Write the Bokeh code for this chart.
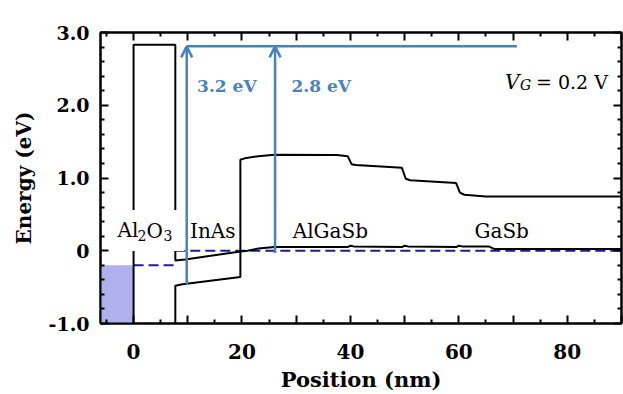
from bokeh.plotting import figure
from bokeh.models import (ColumnDataSource, FixedTicker, LinearAxis, Arrow, OpenHead,
                          CustomLabelingPolicy)
from bokeh.core.properties import value
from bokeh.embed import file_html
from bokeh.resources import INLINE

# ---------------- data ----------------
# oxide CB -> InAs CB -> AlGaSb/GaSb VB (upper-left path)
upper_x = [0, 0, 7.7, 7.7, 9.5, 19.7, 21, 23, 26, 39.5, 40, 40.6, 49.5, 50, 50.6,
           59.5, 60, 60.6, 65.5, 66.5, 90]
upper_y = [-1.0, 2.83, 2.83, -0.135, -0.12, -0.01, 0.0, 0.03, 0.05, 0.05, 0.07, 0.06,
           0.05, 0.07, 0.06, 0.05, 0.07, 0.06, 0.06, 0.025, 0.025]
# oxide VB edge -> InAs VB -> AlGaSb/GaSb CB
lower_x = [7.7, 7.7, 9.0, 19.7, 19.7, 20.5, 23, 26, 37.5, 39.5, 40.2, 41, 49.5, 50.2,
           51, 59.5, 60.2, 61, 65, 90]
lower_y = [-1.0, -0.48, -0.46, -0.36, 1.25, 1.27, 1.30, 1.32, 1.315, 1.30, 1.19, 1.18,
           1.14, 0.99, 0.97, 0.93, 0.80, 0.77, 0.745, 0.745]

# Fermi levels (dashed)
fermi_metal_x = [0, 7.4]
fermi_metal_y = [-0.2, -0.2]
fermi_semi_x = [7.7, 90]
fermi_semi_y = [0.0, 0.0]

# metal gate filled states
metal_x = [-7, 0]
metal_top = [-0.2, -0.2]
metal_bottom = [-1.0, -1.0]

# optical transitions
gap_line_x = [9.8, 70.7]
gap_line_y = [2.81, 2.81]
arrow_x = [9.8, 26.1]
arrow_start = [-0.46, -0.03]
arrow_end = [2.81, 2.81]
gap_labels = ["3.2 eV", "2.8 eV"]
gap_label_x = [17.2, 34.6]
gap_label_y = [2.26, 2.26]

# layer names
layer_names = ["InAs", "AlGaSb", "GaSb"]
layer_x = [14.6, 36.3, 67.9]
layer_y = [0.277, 0.277, 0.277]

# axes ticks
x_ticks = [0, 10, 20, 30, 40, 50, 60, 70, 80, 90]
x_minor = [-5, 5, 15, 25, 35, 45, 55, 65, 75, 85]
y_ticks = [-1.0, 0.0, 1.0, 2.0, 3.0]
y_tick_labels = ["-1.0", "0", "1.0", "2.0", "3.0"]
y_minor = [-0.8, -0.6, -0.4, -0.2, 0.2, 0.4, 0.6, 0.8, 1.2, 1.4, 1.6, 1.8,
           2.2, 2.4, 2.6, 2.8]

FONT = "DejaVu Serif"
BLACK = "black"
BLUE = "#4682c0"
NAVY = "#1c1c9c"

p = figure(width=623, height=394, x_range=(-6.1, 90), y_range=(-1, 3),
           output_backend="svg", toolbar_location=None,
           min_border_left=100, min_border_right=2, min_border_top=32,
           min_border_bottom=69)
p.grid.visible = False
p.outline_line_color = BLACK
p.outline_line_width = 2
p.background_fill_color = "white"
p.border_fill_color = "white"

xt = FixedTicker(ticks=x_ticks, minor_ticks=x_minor)
yt = FixedTicker(ticks=y_ticks, minor_ticks=y_minor)

every_other = CustomLabelingPolicy(code="""
for (const i of indices)
  if (i % 2 == 1)
    indices.unset(i)
return indices
""")
no_labels = CustomLabelingPolicy(code="""
for (const i of indices)
  indices.unset(i)
return indices
""")


def style_axis(ax, show):
    ax.axis_line_width = 2
    ax.axis_line_color = BLACK
    ax.major_tick_in = 8
    ax.major_tick_out = 0
    ax.minor_tick_in = 4
    ax.minor_tick_out = 0
    ax.major_tick_line_width = 2
    ax.minor_tick_line_width = 2
    ax.major_tick_line_color = BLACK
    ax.minor_tick_line_color = BLACK
    ax.major_label_text_font = FONT
    ax.major_label_text_font_style = "bold"
    ax.major_label_text_color = BLACK
    if show:
        ax.major_label_text_font_size = "19px"
    else:
        ax.major_label_text_font_size = "0px"
        ax.major_label_policy = no_labels
        ax.major_label_standoff = 0
    ax.axis_label_text_font = FONT
    ax.axis_label_text_font_style = "bold"
    ax.axis_label_text_font_size = "20px"
    ax.axis_label_text_color = BLACK


xa = p.xaxis[0]
xa.ticker = xt
xa.major_label_policy = every_other
style_axis(xa, True)
xa.major_label_text_font_size = "20px"
xa.major_label_standoff = 20
xa.axis_label = "Position (nm)"
xa.axis_label_text_font_size = "21px"
xa.axis_label_standoff = 5

ya = p.yaxis[0]
ya.ticker = yt
ya.major_label_overrides = dict(zip(y_ticks, y_tick_labels))
style_axis(ya, True)
ya.major_label_standoff = 11
ya.axis_label = "Energy (eV)"
ya.axis_label_standoff = 10

top = LinearAxis(ticker=xt)
style_axis(top, False)
p.add_layout(top, "above")
right = LinearAxis(ticker=yt)
style_axis(right, False)
p.add_layout(right, "right")

# metal filled region
p.varea(x=metal_x, y1=metal_bottom, y2=metal_top, fill_color="#b0b0ee", fill_alpha=1)

# Fermi levels
p.line(fermi_metal_x, fermi_metal_y, line_color=NAVY, line_width=2, line_dash="10 5")
p.line(fermi_semi_x, fermi_semi_y, line_color=NAVY, line_width=2, line_dash="10 5")

# band edges
p.line(upper_x, upper_y, line_color=BLACK, line_width=2)
p.line(lower_x, lower_y, line_color=BLACK, line_width=2)

# transitions
p.line(gap_line_x, gap_line_y, line_color=BLUE, line_width=2.5)
asrc = ColumnDataSource(dict(x=arrow_x, y0=arrow_start, y1=arrow_end))
p.add_layout(Arrow(source=asrc, x_start="x", y_start="y0", x_end="x", y_end="y1",
                   line_color=BLUE, line_width=2.5,
                   end=OpenHead(size=11, line_color=BLUE, line_width=2.5)))
p.text(x=gap_label_x, y=gap_label_y, text=gap_labels, text_font=value(FONT),
       text_font_style="bold", text_font_size="17px", text_color=BLUE,
       text_align="center", text_baseline="middle")

# Al2O3 label with white box (interrupts the oxide edges)
p.text(x=[-3.7], y=[0.277], text=["Al"], text_font=value(FONT), text_font_size="20px",
       text_color=BLACK, text_align="left", text_baseline="alphabetic",
       background_fill_color="white",
       padding=dict(left=4, right=46, top=8, bottom=9))
p.text(x=[-3.7, -3.7, -3.7], y=[0.277, 0.277, 0.277], text=["2", "O", "3"],
       x_offset=[24, 33, 50], y_offset=[5, 0, 5],
       text_font=value(FONT), text_font_size=["14px", "20px", "14px"],
       text_color=BLACK, text_align="left", text_baseline="alphabetic")

p.text(x=layer_x, y=layer_y, text=layer_names, text_font=value(FONT),
       text_font_size="20px", text_color=BLACK, text_align="center",
       text_baseline="alphabetic")

# V_G = 0.2 V
p.text(x=[68.5], y=[2.325], text=["V"], text_font=value(FONT), text_font_style="italic",
       text_font_size="20px", text_color=BLACK, text_align="left", text_baseline="alphabetic")
p.text(x=[68.5], y=[2.325], text=["G"], x_offset=[15], y_offset=[3], text_font=value(FONT),
       text_font_style="italic", text_font_size="14px", text_color=BLACK,
       text_align="left", text_baseline="alphabetic")
p.text(x=[68.5], y=[2.325], text=["= 0.2 V"], x_offset=[31], text_font=value(FONT),
       text_font_size="19px", text_color=BLACK, text_align="left", text_baseline="alphabetic")

open("out.html", "w").write(file_html(p, INLINE))
